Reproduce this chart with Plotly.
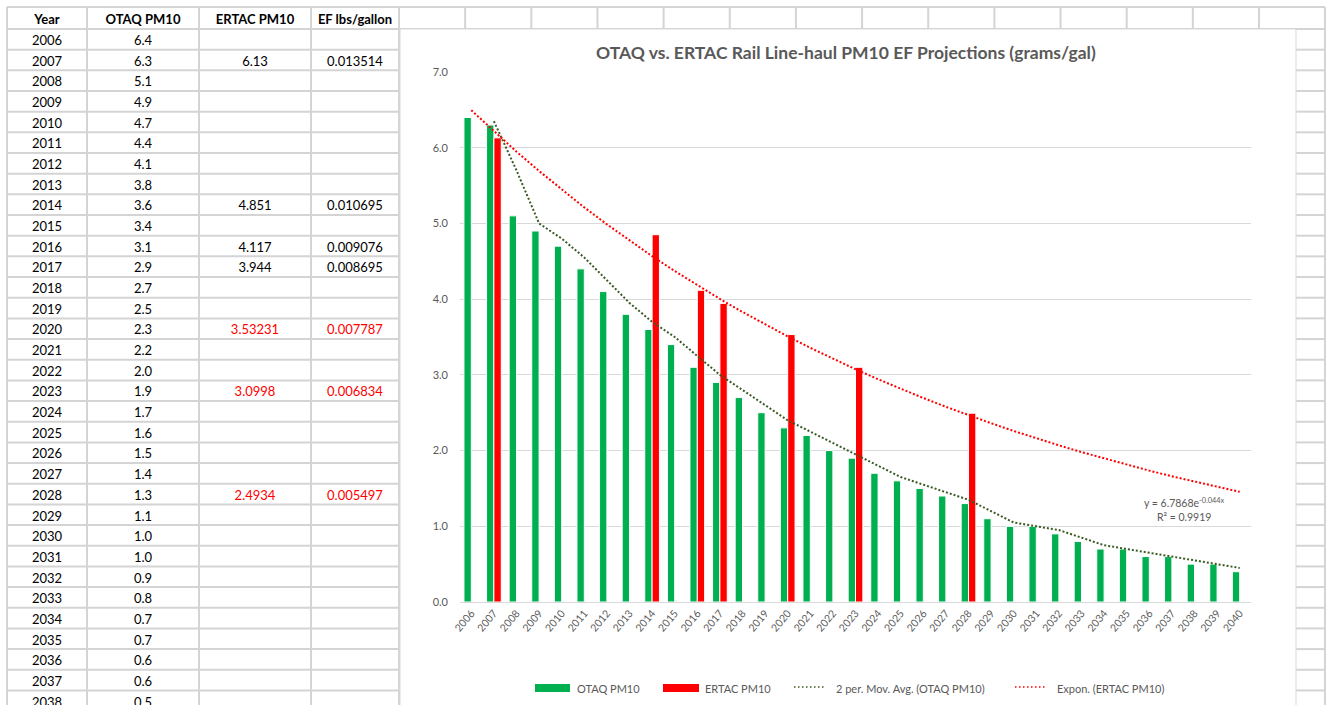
import plotly.graph_objects as go

# ---------------- data ----------------
years = list(range(2006, 2041))
year_labels = [str(y) for y in years]
otaq_pm10 = [6.4, 6.3, 5.1, 4.9, 4.7, 4.4, 4.1, 3.8, 3.6, 3.4, 3.1, 2.9, 2.7, 2.5, 2.3,
             2.2, 2.0, 1.9, 1.7, 1.6, 1.5, 1.4, 1.3, 1.1, 1.0, 1.0, 0.9, 0.8, 0.7, 0.7,
             0.6, 0.6, 0.5, 0.5, 0.4]
ertac_years = [2007, 2014, 2016, 2017, 2020, 2023, 2028]
ertac_pm10 = [6.13, 4.851, 4.117, 3.944, 3.53231, 3.0998, 2.4934]
ertac_labels = ["6.13", "4.851", "4.117", "3.944", "3.53231", "3.0998", "2.4934"]
ef_lbs_gallon = ["0.013514", "0.010695", "0.009076", "0.008695", "0.007787", "0.006834", "0.005497"]
projected_years = [2020, 2023, 2028]          # rows shown in red in the sheet
headers = ["Year", "OTAQ PM10", "ERTAC PM10", "EF lbs/gallon"]

# 2-period moving average of OTAQ PM10
mov_avg = [None, 6.35, 5.7, 5.0, 4.8, 4.55, 4.25, 3.95, 3.7, 3.5, 3.25, 3.0, 2.8, 2.6, 2.4,
           2.25, 2.1, 1.95, 1.8, 1.65, 1.55, 1.45, 1.35, 1.2, 1.05, 1.0, 0.95, 0.85, 0.75,
           0.7, 0.65, 0.6, 0.55, 0.5, 0.45]
# exponential trend of ERTAC PM10
expon = [6.495, 6.215, 5.948, 5.692, 5.447, 5.212, 4.988, 4.773, 4.568, 4.371, 4.183,
         4.003, 3.831, 3.666, 3.508, 3.357, 3.212, 3.074, 2.942, 2.815, 2.694, 2.578,
         2.467, 2.361, 2.259, 2.162, 2.069, 1.980, 1.895, 1.813, 1.735, 1.660, 1.589,
         1.520, 1.455]
series_names = ["OTAQ PM10", "ERTAC PM10", "2 per. Mov. Avg. (OTAQ PM10)", "Expon. (ERTAC PM10)"]
trend_eq = "y = 6.7868e<sup>-0.044x</sup>"
trend_r2 = "R² = 0.9919"
title = "OTAQ vs. ERTAC Rail Line-haul PM10 EF Projections (grams/gal)"

# ---------------- layout constants (pixels) ----------------
W, H = 1330, 705
FONT = "Lato, Carlito, sans-serif"
GRID = "#d4d4d4"
TXT = "#595959"
GREEN = "#00B050"
RED = "#FF0000"
MAVG = "#3b5a24"

TOP = 7          # sheet top border
HDR_BOT = 29     # header row bottom
ROW_H = 20.67
COLS = [7, 87, 199, 311, 399]

def px(x):
    return x / W

def py(y):
    return 1 - y / H

shapes = []

def hline(x0, x1, y, color=GRID, w=2):
    shapes.append(dict(type="line", xref="paper", yref="paper", x0=px(x0), x1=px(x1),
                       y0=py(y), y1=py(y), line=dict(color=color, width=w), layer="below"))

def vline(x, y0, y1, color=GRID, w=2):
    shapes.append(dict(type="line", xref="paper", yref="paper", x0=px(x), x1=px(x),
                       y0=py(y0), y1=py(y1), line=dict(color=color, width=w), layer="below"))

# left table grid
hline(COLS[0], COLS[-1], TOP)
k = 0
while HDR_BOT + k * ROW_H < H + 5:
    hline(COLS[0], COLS[-1], HDR_BOT + k * ROW_H)
    k += 1
for cx in COLS:
    vline(cx, TOP, H + 5)

# right-side sheet cells (top row and right column)
hline(399, 1325, TOP)
hline(399, 1325, HDR_BOT)
cw = (1259 - 399) / 13
for i in range(1, 14):
    vline(399 + cw * i, TOP, HDR_BOT)
vline(1325, TOP, H + 5)
k = 0
while HDR_BOT + k * ROW_H < H + 5:
    hline(1296, 1325, HDR_BOT + k * ROW_H)
    k += 1

# chart area (white box with thin border)
shapes.append(dict(type="rect", xref="paper", yref="paper", x0=px(400), x1=px(1296),
                   y0=py(H + 10), y1=py(HDR_BOT), fillcolor="white",
                   line=dict(color="#d9d9d9", width=1), layer="below"))

fig = go.Figure()

# ---------------- chart traces ----------------
ertac_map = dict(zip(ertac_years, ertac_pm10))
ertac_full = [ertac_map.get(y) for y in years]

fig.add_trace(go.Bar(x=year_labels, y=otaq_pm10, name=series_names[0],
                     marker=dict(color=GREEN, line=dict(color="white", width=1))))
fig.add_trace(go.Bar(x=year_labels, y=ertac_full, name=series_names[1],
                     marker=dict(color=RED, line=dict(color="white", width=1))))
fig.add_trace(go.Scatter(x=year_labels, y=mov_avg, mode="lines", name=series_names[2],
                         line=dict(color=MAVG, width=2, dash="2px,2px")))
fig.add_trace(go.Scatter(x=year_labels, y=expon, mode="lines", name=series_names[3],
                         line=dict(color=RED, width=2, dash="2px,2px")))

# ---------------- sheet table text (on its own pixel-unit axes) ----------------
col_centers = [(COLS[i] + COLS[i + 1]) / 2 for i in range(4)]
row_y = [HDR_BOT + (i + 0.5) * ROW_H + 2.5 for i in range(len(years))]
hdr_y = (TOP + HDR_BOT) / 2 + 2.5

fig.add_trace(go.Scatter(x=col_centers, y=[hdr_y] * 4, mode="text",
                         text=[f"<b>{h}</b>" for h in headers],
                         textfont=dict(family=FONT, size=13, color="black"),
                         xaxis="x2", yaxis="y2", showlegend=False, hoverinfo="skip"))
fig.add_trace(go.Scatter(x=[col_centers[0]] * len(years), y=row_y, mode="text",
                         text=year_labels, textfont=dict(family=FONT, size=13, color="black"),
                         xaxis="x2", yaxis="y2", showlegend=False, hoverinfo="skip"))
fig.add_trace(go.Scatter(x=[col_centers[1]] * len(years), y=row_y, mode="text",
                         text=[f"{v:.1f}" for v in otaq_pm10],
                         textfont=dict(family=FONT, size=13, color="black"),
                         xaxis="x2", yaxis="y2", showlegend=False, hoverinfo="skip"))
er_y = [row_y[years.index(y)] for y in ertac_years]
er_col = [RED if y in projected_years else "black" for y in ertac_years]
fig.add_trace(go.Scatter(x=[col_centers[2]] * len(ertac_years), y=er_y, mode="text",
                         text=ertac_labels, textfont=dict(family=FONT, size=13, color=er_col),
                         xaxis="x2", yaxis="y2", showlegend=False, hoverinfo="skip"))
fig.add_trace(go.Scatter(x=[col_centers[3]] * len(ertac_years), y=er_y, mode="text",
                         text=ef_lbs_gallon, textfont=dict(family=FONT, size=13, color=er_col),
                         xaxis="x2", yaxis="y2", showlegend=False, hoverinfo="skip"))

# ---------------- legend (Excel style: wide swatches) ----------------
LEG_Y = 688
legend_items = [  # (swatch x0, swatch x1, text x, kind, color)
    (535, 570, 575, "box", GREEN),
    (663, 699, 703, "box", RED),
    (794, 826, 834, "dot", MAVG),
    (1015, 1047, 1055, "dot", RED),
]
annotations = []
for name, (sx0, sx1, tx, kind, col) in zip(series_names, legend_items):
    if kind == "box":
        shapes.append(dict(type="rect", xref="paper", yref="paper", x0=px(sx0), x1=px(sx1),
                           y0=py(LEG_Y + 4), y1=py(LEG_Y - 4), fillcolor=col,
                           line=dict(width=0), layer="above"))
    else:
        shapes.append(dict(type="line", xref="paper", yref="paper", x0=px(sx0), x1=px(sx1),
                           y0=py(LEG_Y - 1), y1=py(LEG_Y - 1),
                           line=dict(color=col, width=1.5, dash="1.5px,2.5px"), layer="above"))
    annotations.append(dict(text=name, x=px(tx), y=py(LEG_Y), xref="paper", yref="paper",
                            xanchor="left", yanchor="middle", showarrow=False,
                            font=dict(size=11, color=TXT)))

annotations.append(dict(text=f"<b>{title}</b>", x=px(846), y=py(52), xref="paper",
                        yref="paper", xanchor="center", yanchor="middle", showarrow=False,
                        font=dict(size=17.5, color=TXT)))
annotations.append(dict(text=f"{trend_eq}<br>{trend_r2}", x=px(1184), y=py(509),
                        xref="paper", yref="paper", xanchor="center", yanchor="middle",
                        showarrow=False, align="center", font=dict(size=10.5, color=TXT)))

# ---------------- layout ----------------
fig.update_layout(
    width=W, height=H,
    margin=dict(l=0, r=0, t=0, b=0, pad=0, autoexpand=False),
    paper_bgcolor="white", plot_bgcolor="rgba(0,0,0,0)",
    font=dict(family=FONT, color=TXT, size=11),
    barmode="group", bargap=0.35, bargroupgap=0,
    showlegend=False,
    shapes=shapes,
    annotations=annotations,
    xaxis=dict(domain=[px(460), px(1251)], type="category", tickangle=-50,
               tickfont=dict(size=10.5, color=TXT), showgrid=False, automargin=False,
               showline=True, linecolor="#d9d9d9", linewidth=1, ticks=""),
    yaxis=dict(domain=[py(602), py(72)], range=[0, 7], dtick=1, tickformat=".1f",
               showgrid=True, gridcolor="#d9d9d9", gridwidth=1, zeroline=False,
               automargin=False,
               tickfont=dict(size=11, color=TXT), ticks="", ticklabelstandoff=11),
    xaxis2=dict(domain=[px(7), px(399)], range=[7, 399], visible=False, fixedrange=True,
                automargin=False),
    yaxis2=dict(domain=[0, py(TOP)], range=[H, TOP], visible=False, fixedrange=True,
                anchor="x2", automargin=False),
)

fig.write_html("out.html", config={"displayModeBar": False},
               post_script="document.body.style.margin='0';"
                           "document.body.style.overflow='hidden';")
